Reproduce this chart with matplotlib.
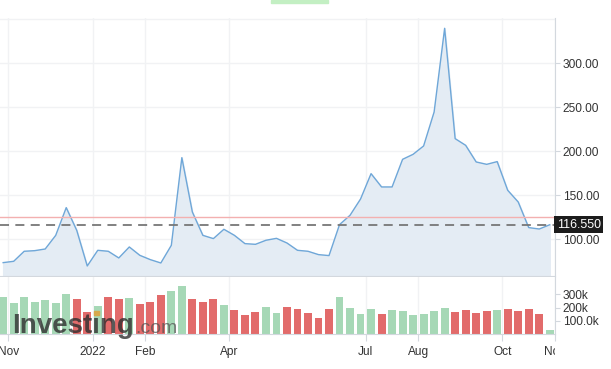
import numpy as np
import matplotlib
matplotlib.use("Agg")
import matplotlib.pyplot as plt
from matplotlib.patches import Rectangle
from matplotlib.transforms import Bbox, TransformedBbox

# weekly closes, Nov 2021 - Nov 2022
closes = [73.5, 75.0, 86.4, 87.1, 89.0, 104.5, 136.0, 110.2, 69.7, 87.5,
          86.4, 78.8, 91.3, 81.8, 76.9, 73.1, 93.2, 192.8, 131.0, 104.5,
          100.8, 111.4, 104.5, 95.1, 94.3, 98.9, 101.1, 95.8, 87.5, 86.4,
          82.6, 81.5, 116.7, 127.3, 145.8, 174.6, 159.5, 159.5, 190.9, 196.6,
          206.1, 244.7, 339.8, 214.4, 206.8, 187.9, 185.2, 188.3, 155.7, 142.4,
          113.3, 111.7, 116.55]
# weekly volume, thousands
volumes = [277, 236, 277, 239, 255, 232, 300, 262, 165, 211,
           277, 267, 270, 224, 239, 292, 323, 363, 262, 239,
           262, 217, 179, 141, 164, 202, 156, 202, 186, 156,
           118, 186, 277, 194, 148, 186, 151, 181, 173, 143,
           151, 173, 194, 166, 181, 158, 173, 181, 189, 173,
           189, 153, 30]
month_pos = [0.5, 8.5, 13.5, 21.5, 34.5, 39.5, 47.5, 52.5]
month_labels = ["Nov", "2022", "Feb", "Apr", "Jul", "Aug", "Oct", "Nov"]
last_price = 116.55
prev_close = 125.5
price_ticks = [100, 150, 200, 250, 300]
vol_ticks = [100, 200, 300]
vol_tick_labels = ["100.0k", "200k", "300k"]

plt.rcParams['font.family'] = ['Liberation Sans', 'DejaVu Sans']
W, H = 611, 369
fig = plt.figure(figsize=(W / 100, H / 100), dpi=100)

x = np.arange(len(closes))
closes = np.array(closes)
up = np.r_[True, closes[1:] >= closes[:-1]]
bar_colors = np.where(up, '#a6d8b6', '#e26b6b')

grid_c = '#f1f2f4'
axis_c = '#d3d8de'
text_c = '#333333'


def px_axes(left, top, right, bottom):
    return fig.add_axes([left / W, 1 - bottom / H, (right - left) / W, (bottom - top) / H])


# price panel
ax = px_axes(0, 18, 555, 276)
ax.set_xlim(-0.3, 52.5)
ax.set_ylim(58.3, 351.5)
ax.fill_between(x, closes, 58.3, color='#e4ecf4', zorder=1)
ax.plot(x, closes, color='#6fa7d8', lw=1.0, zorder=3)
for p in month_pos:
    ax.axvline(p, color=grid_c, lw=1, zorder=0)
for v in price_ticks + [350]:
    ax.axhline(v, color=grid_c, lw=1, zorder=0)
ax.axhline(prev_close, color='#f3b0b0', lw=1.0, zorder=4)
ax.axhline(last_price, color='#777777', lw=1.3, dashes=(5, 3.5), zorder=4)

ax.yaxis.tick_right()
ax.set_yticks(price_ticks)
ax.set_yticklabels([f"{v:.2f}" for v in price_ticks])
ax.set_xticks([])
ax.tick_params(axis='y', length=3.5, width=0.8, color=axis_c, pad=2,
               labelsize=8.6, labelcolor=text_c)
for s in ['top', 'left']:
    ax.spines[s].set_visible(False)
ax.spines['right'].set_color(axis_c)
ax.spines['bottom'].set_color(axis_c)
ax.text(1.003, last_price, f"{last_price:.3f}", transform=ax.get_yaxis_transform(),
        ha='left', va='center', color='white', fontsize=8.9,
        bbox=dict(boxstyle='square,pad=0.22', fc='#1c1c1c', ec='none'), zorder=6,
        clip_on=False)

# volume panel
vax = px_axes(0, 277, 555, 334)
vax.set_xlim(-0.3, 52.5)
vax.set_ylim(0, 431)
for p in month_pos:
    vax.axvline(p, color=grid_c, lw=1, zorder=0)
vax.bar(x, volumes, width=0.75, color=bar_colors, zorder=2)
vax.yaxis.tick_right()
vax.set_yticks(vol_ticks)
vax.set_yticklabels(vol_tick_labels)
vax.set_xticks(month_pos)
vax.set_xticklabels(month_labels)
vax.tick_params(axis='y', length=3.5, width=0.8, color=axis_c, pad=2,
                labelsize=8.6, labelcolor=text_c)
vax.tick_params(axis='x', length=5, width=0.8, color=axis_c, pad=3.5,
                labelsize=8.6, labelcolor=text_c)
for s in ['top', 'left']:
    vax.spines[s].set_visible(False)
vax.spines['right'].set_color(axis_c)
vax.spines['bottom'].set_color(axis_c)

# last month label is cut by the price scale
clip = TransformedBbox(Bbox([[0, 0], [555 / W, 1]]), fig.transFigure)
last_lab = vax.xaxis.get_major_ticks()[-1].label1
last_lab.set_clip_on(True)
last_lab.set_clip_box(clip)

# watermark
fig.text(12 / W, 1 - 333 / H, "Investing", fontsize=20, fontweight='bold',
         color='#2f2f2f', alpha=0.8, ha='left', va='baseline', zorder=10)
fig.text(135 / W, 1 - 333 / H, ".com", fontsize=14, color='#555555', alpha=0.75,
         ha='left', va='baseline', zorder=10)
fig.patches.append(Rectangle((94 / W, 1 - 315 / H), 5 / W, 4.5 / H,
                             transform=fig.transFigure, color='#d6a94c', zorder=11))

# small highlight at the top
fig.patches.append(Rectangle((271 / W, 1 - 3 / H), 57 / W, 3 / H,
                             transform=fig.transFigure, color='#c3efc3', zorder=0))

fig.savefig("out.png", dpi=100, facecolor='white')
